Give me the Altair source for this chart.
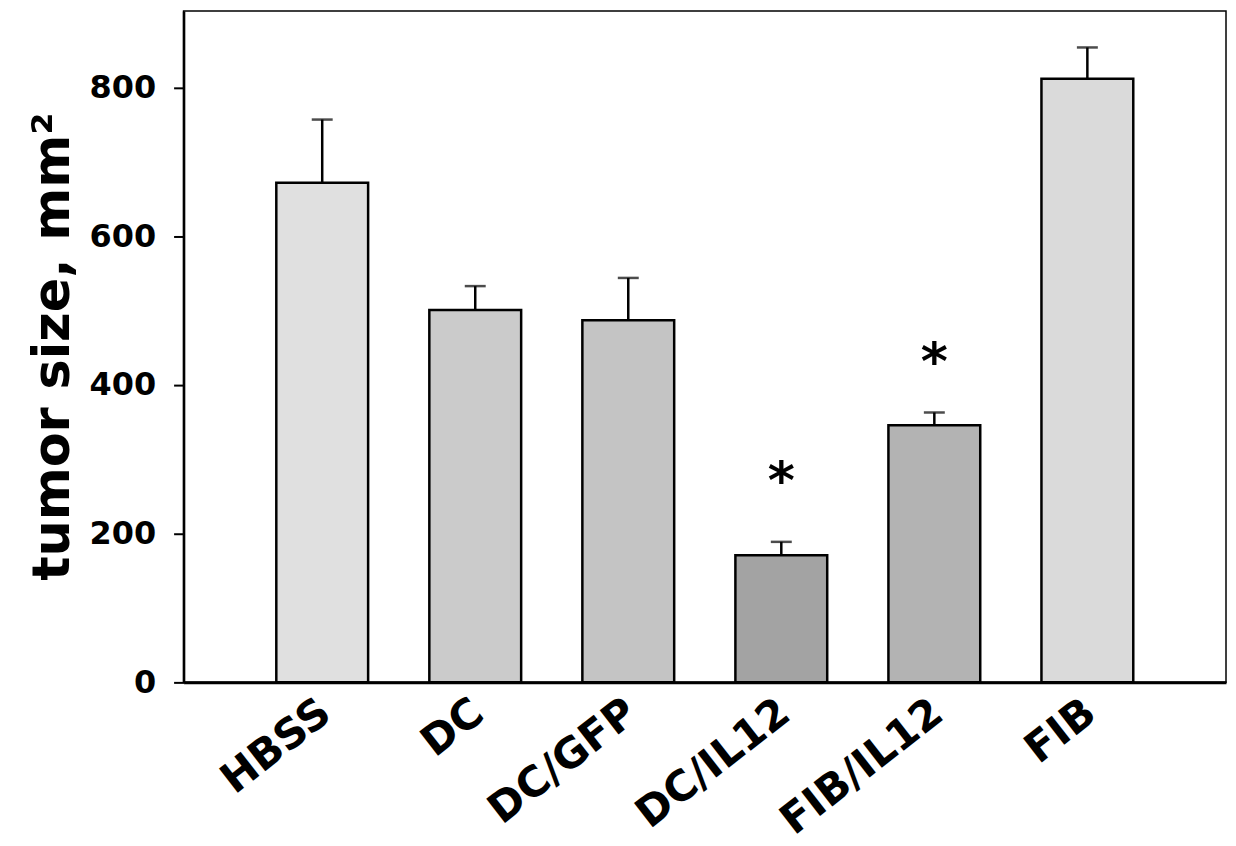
import altair as alt
import pandas as pd

groups = ["HBSS", "DC", "DC/GFP", "DC/IL12", "FIB/IL12", "FIB"]
means = [672, 501, 487, 171, 346, 812]
upper = [757, 533, 544, 189, 363, 854]
star_groups = ["DC/IL12", "FIB/IL12"]
star_pos = [285, 446]
y_ticks = [0, 200, 400, 600, 800]

df = pd.DataFrame({"group": groups, "mean": means, "upper": upper})
sdf = pd.DataFrame({"group": star_groups, "pos": star_pos})

grays = ["#e0e0e0", "#cbcbcb", "#c4c4c4", "#a3a3a3", "#b3b3b3", "#dadada"]
FONT = "DejaVu Sans"

xscale = alt.Scale(domain=groups, paddingInner=0.4, paddingOuter=0.606)
yscale = alt.Scale(domain=[0, 903], nice=False, zero=True)

xaxis = alt.Axis(title=None, labelAngle=-38, labelFontSize=42, labelFont=FONT,
                 labelFontWeight="bold", labelColor="black", ticks=False,
                 domainWidth=3, domainColor="black", labelPadding=9,
                 labelAlign="right", labelBaseline="top", labelOffset=-9,
                 labelLimit=0, labelOverlap=False)
yaxis = alt.Axis(values=y_ticks, title="tumor size, mm²", titleFontSize=51,
                 titleFont=FONT, titleFontWeight="bold", titleColor="black",
                 titleX=-104, titleY=336, labelFontSize=32, labelFont=FONT,
                 labelFontWeight="bold", labelColor="black", labelPadding=18,
                 tickSize=10, tickWidth=2, tickColor="black", domainColor="black",
                 domainWidth=2.5, grid=False)

base = alt.Chart(df).encode(x=alt.X("group:N", sort=groups, scale=xscale, axis=xaxis))

bars = base.mark_bar(stroke="black", strokeWidth=2.5).encode(
    y=alt.Y("mean:Q", scale=yscale, axis=yaxis),
    color=alt.Color("group:N", scale=alt.Scale(domain=groups, range=grays), legend=None),
)
rule = base.mark_rule(color="black", strokeWidth=2.5).encode(y="mean:Q", y2="upper:Q")
cap = base.mark_tick(color="black", thickness=2.5, size=21, orient="horizontal").encode(y="upper:Q")
stars = alt.Chart(sdf).mark_text(text="*", fontSize=52, font=FONT, fontWeight="bold",
                                 baseline="middle", dy=12, color="black").encode(
    x=alt.X("group:N", sort=groups, scale=xscale, axis=xaxis),
    y=alt.Y("pos:Q", scale=yscale),
)

chart = alt.layer(bars, rule, cap, stars).properties(
    width=1045, height=673,
    autosize=alt.AutoSizeParams(type="none"),
    padding={"left": 176, "top": 2, "right": 2, "bottom": 162},
).configure_view(stroke="black", strokeWidth=1.5)

chart.save("out.html", embed_options={"renderer": "svg", "actions": False})
